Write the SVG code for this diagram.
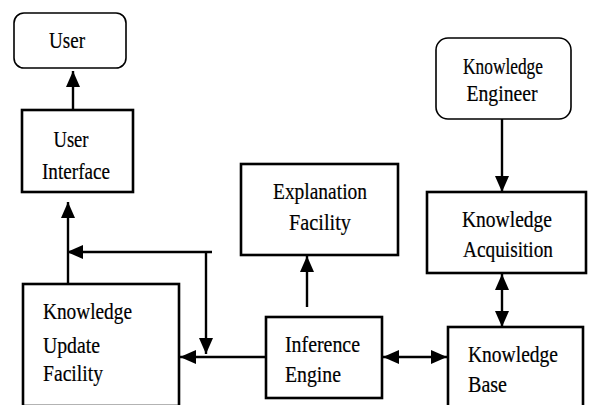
<svg xmlns="http://www.w3.org/2000/svg" width="591" height="405" viewBox="0 0 591 405">
<style>
.box{fill:#fff;stroke:#000;stroke-width:2.6}
.rbox{fill:#fff;stroke:#000;stroke-width:1.6}
text{font-family:'Liberation Serif','Times New Roman',Times,serif;font-size:23px;fill:#000;stroke:#000;stroke-width:0.2}
.c{text-anchor:middle}
.conn line{stroke:#000;stroke-width:2.4;fill:none}
</style>
<defs>
<marker id="ah" markerUnits="userSpaceOnUse" markerWidth="16" markerHeight="14" refX="16" refY="7" orient="auto-start-reverse" viewBox="0 0 16 14">
<path d="M0,0 L16,7 L0,14 z" fill="#000"/>
</marker>
</defs>
<rect width="591" height="405" fill="#fff"/>
<g id="user"><rect class="rbox" x="14" y="13" width="112" height="55" rx="10"/><text x="67" y="48" textLength="36" lengthAdjust="spacingAndGlyphs" class="c">User</text></g>
<g id="ui"><rect class="box" x="22" y="110" width="111" height="82"/><text x="71" y="147" textLength="35" lengthAdjust="spacingAndGlyphs" class="c">User</text><text x="76" y="179" textLength="68" lengthAdjust="spacingAndGlyphs" class="c">Interface</text></g>
<g id="kuf"><rect class="box" x="23" y="284" width="156" height="122"/><text x="43" y="319" textLength="89" lengthAdjust="spacingAndGlyphs">Knowledge</text><text x="43" y="353" textLength="57" lengthAdjust="spacingAndGlyphs">Update</text><text x="43" y="381" textLength="60" lengthAdjust="spacingAndGlyphs">Facility</text></g>
<g id="ef"><rect class="box" x="241" y="164" width="157" height="91"/><text x="320" y="199" textLength="94" lengthAdjust="spacingAndGlyphs" class="c">Explanation</text><text x="320" y="230" textLength="62" lengthAdjust="spacingAndGlyphs" class="c">Facility</text></g>
<g id="ie"><rect class="box" x="266" y="317" width="116" height="81"/><text x="285" y="352" textLength="75" lengthAdjust="spacingAndGlyphs">Inference</text><text x="285" y="382" textLength="56" lengthAdjust="spacingAndGlyphs">Engine</text></g>
<g id="ke"><rect class="rbox" x="436" y="38" width="135" height="81" rx="12"/><text x="503" y="74" textLength="80" lengthAdjust="spacingAndGlyphs" class="c">Knowledge</text><text x="502" y="101" textLength="71" lengthAdjust="spacingAndGlyphs" class="c">Engineer</text></g>
<g id="ka"><rect class="box" x="427" y="192" width="159" height="81"/><text x="507" y="227" textLength="90" lengthAdjust="spacingAndGlyphs" class="c">Knowledge</text><text x="508" y="257" textLength="90" lengthAdjust="spacingAndGlyphs" class="c">Acquisition</text></g>
<g id="kb"><rect class="box" x="448" y="327" width="135" height="90"/><text x="468" y="362" textLength="90" lengthAdjust="spacingAndGlyphs">Knowledge</text><text x="468" y="392" textLength="39" lengthAdjust="spacingAndGlyphs">Base</text></g>
<g class="conn">
<line x1="73" y1="110" x2="73" y2="71" marker-end="url(#ah)"/>
<line x1="68" y1="284" x2="68" y2="202" marker-end="url(#ah)"/>
<line x1="212" y1="252" x2="67" y2="252" marker-end="url(#ah)"/>
<line x1="206" y1="252" x2="206" y2="354" marker-end="url(#ah)"/>
<line x1="266" y1="357" x2="180" y2="357" marker-end="url(#ah)"/>
<line x1="307" y1="307" x2="307" y2="256" marker-end="url(#ah)"/>
<line x1="383" y1="357" x2="447" y2="357" marker-start="url(#ah)" marker-end="url(#ah)"/>
<line x1="502" y1="119" x2="502" y2="192" marker-end="url(#ah)"/>
<line x1="502" y1="274" x2="502" y2="327" marker-start="url(#ah)" marker-end="url(#ah)"/>
</g>
</svg>
